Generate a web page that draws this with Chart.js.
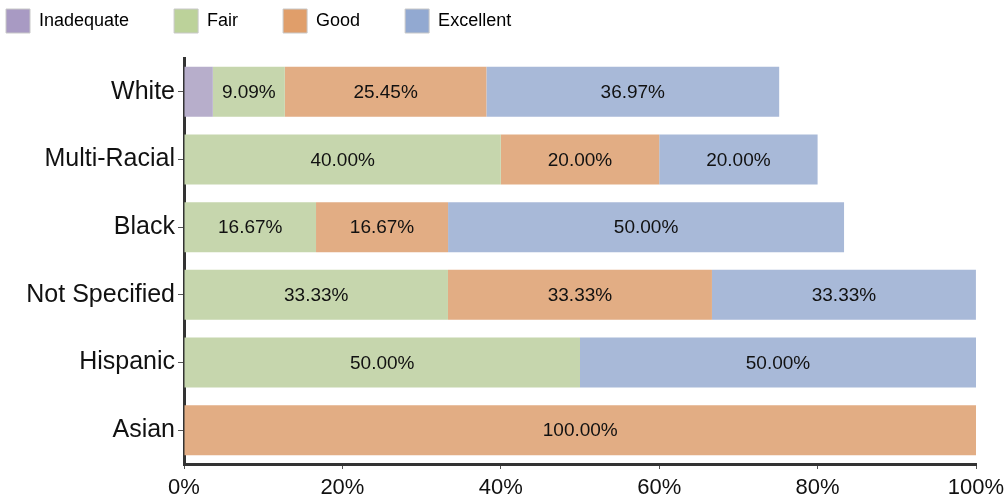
<!DOCTYPE html>
<html>
<head>
<meta charset="utf-8">
<script src="https://cdn.jsdelivr.net/npm/chart.js@4/dist/chart.umd.min.js"></script>
<style>
  html, body { margin: 0; padding: 0; background: #fff; }
  #chart { display: block; }
</style>
</head>
<body>
<canvas id="chart" width="1004" height="498"></canvas>
<script>
// Categories and series values (percent of each group)
var categories = ['White', 'Multi-Racial', 'Black', 'Not Specified', 'Hispanic', 'Asian'];
var inadequate = [3.64, 0, 0, 0, 0, 0];
var fair = [9.09, 40.00, 16.67, 33.33, 50.00, 0];
var good = [25.45, 20.00, 16.67, 33.33, 0, 100.00];
var excellent = [36.97, 20.00, 50.00, 33.33, 50.00, 0];
var xTicks = [0, 20, 40, 60, 80, 100];

var seriesNames = ['Inadequate', 'Fair', 'Good', 'Excellent'];
var barColors = ['#b7aecb', '#c6d6ad', '#e2ad84', '#a8b9d8'];
var legendColors = ['#a89ac3', '#bcd29a', '#e09e6a', '#92a9d1'];

var fontFamily = "'Liberation Sans', Arial, sans-serif";

// Writes the value in the middle of each bar segment that is wide enough
var barLabels = {
  id: 'barLabels',
  afterDatasetsDraw: function (chart) {
    var ctx = chart.ctx;
    ctx.save();
    ctx.font = '19px ' + fontFamily;
    ctx.fillStyle = '#111';
    ctx.textAlign = 'center';
    ctx.textBaseline = 'middle';
    chart.data.datasets.forEach(function (ds, i) {
      chart.getDatasetMeta(i).data.forEach(function (bar, j) {
        var v = ds.data[j];
        if (!v || v < 5) return;
        ctx.fillText(v.toFixed(2) + '%', (bar.x + bar.base) / 2, bar.y + 1);
      });
    });
    ctx.restore();
  }
};

// Moves the legend to the top left corner
var legendPlace = {
  id: 'legendPlace',
  afterLayout: function (chart) {
    var pad = chart.options.plugins.legend.labels.padding;
    chart.legend.left = 6 - pad;
    chart.legend.top = 9 - pad;
  }
};

var datasets = [inadequate, fair, good, excellent].map(function (values, i) {
  return {
    label: seriesNames[i],
    data: values,
    backgroundColor: barColors[i],
    borderWidth: 0
  };
});

new Chart(document.getElementById('chart').getContext('2d'), {
  type: 'bar',
  data: { labels: categories, datasets: datasets },
  plugins: [barLabels, legendPlace],
  options: {
    indexAxis: 'y',
    responsive: false,
    animation: false,
    layout: { padding: { left: 0, right: 0, top: 0, bottom: 0 } },
    datasets: {
      bar: { categoryPercentage: 1, barPercentage: 0.74 }
    },
    plugins: {
      tooltip: { enabled: false },
      legend: {
        position: 'top',
        align: 'start',
        maxHeight: 58,
        labels: {
          padding: 45,
          boxWidth: 24,
          boxHeight: 24,
          color: '#111',
          font: { family: fontFamily, size: 18 },
          generateLabels: function (chart) {
            return chart.data.datasets.map(function (ds, i) {
              return {
                text: ds.label,
                fillStyle: legendColors[i],
                strokeStyle: '#c8c8c8',
                lineWidth: 1,
                datasetIndex: i
              };
            });
          }
        }
      }
    },
    scales: {
      x: {
        stacked: true,
        min: 0,
        max: 100,
        afterFit: function (scale) {
          scale.height = 34;
          scale.paddingLeft = 0;
          scale.paddingRight = 28;
        },
        afterBuildTicks: function (scale) {
          scale.ticks = xTicks.map(function (v) { return { value: v }; });
        },
        border: { display: true, color: '#333', width: 3 },
        grid: { drawOnChartArea: false, drawTicks: true, tickLength: 5, color: '#555', lineWidth: 1 },
        ticks: {
          color: '#111',
          padding: 6,
          maxRotation: 0,
          font: { family: fontFamily, size: 22 },
          callback: function (v) { return v + '%'; }
        }
      },
      y: {
        stacked: true,
        afterFit: function (scale) { scale.width = 184; },
        border: { display: true, color: '#333', width: 3 },
        grid: { offset: false, drawOnChartArea: false, drawTicks: true, tickLength: 6, color: '#555', lineWidth: 1 },
        ticks: {
          color: '#111',
          padding: 3,
          font: { family: fontFamily, size: 25 }
        }
      }
    }
  }
});
</script>
</body>
</html>
